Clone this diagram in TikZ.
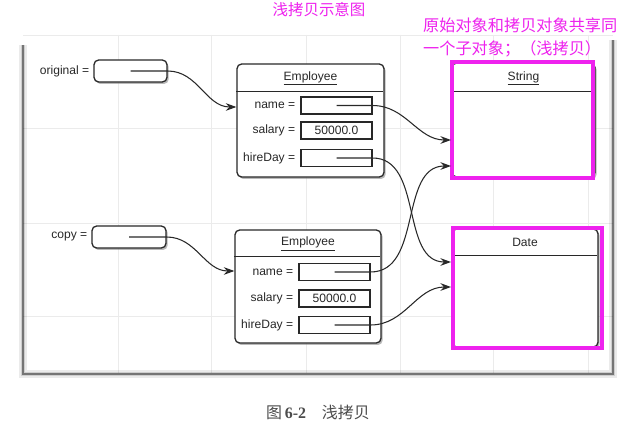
\documentclass[tikz,border=0pt]{standalone}
\usepackage{fontspec}
\setmainfont{Liberation Sans}
\newfontfamily\cjk{Noto Sans CJK SC}
\newfontfamily\capserif{Liberation Serif}
\usetikzlibrary{positioning,shadows,arrows.meta}
\definecolor{hilite}{RGB}{238,34,238}
\definecolor{ink}{RGB}{40,40,40}
\tikzset{
  obj/.style={draw=ink, line width=1.1pt, rounded corners=4pt, fill=white,
    drop shadow={opacity=0.55, shadow xshift=1.4pt, shadow yshift=-1.7pt}},
  field/.style={draw=ink, line width=0.9pt, fill=white, inner sep=0pt,
    minimum width=2.13cm, minimum height=0.51cm},
  ref/.style={ink, line width=0.9pt, -{Stealth[length=9pt,width=6.5pt]}},
  hibox/.style={draw=hilite, line width=2.8pt},
  grid/.style={gray!16, line width=0.4pt}
}
\begin{document}
\begin{tikzpicture}[x=0.03cm, y=-0.03cm,
  every node/.style={font=\fontsize{10.3}{12}\selectfont, text=ink}]
  \fill[white] (0,0) rectangle (627,430);
  \useasboundingbox (0,0) rectangle (627,430);
  \foreach \gx in {118,211,306,400,493,588}
    \draw[grid] (\gx,35) -- (\gx,373);
  \foreach \gy in {35,128,223,316}
    \draw[grid] (23,\gy) -- (613,\gy);
  \foreach \w/\o in {6/0.08,4/0.12,2.5/0.18,1.2/0.3}
    \draw[line width=\w pt, black, opacity=\o] (23,45) -- (23,374) -- (613,374) -- (613,40);

  \node[text=hilite, font=\cjk\fontsize{13.2}{16}\selectfont] (title) at (319,10) {浅拷贝示意图};
  \node[text=hilite, font=\cjk\fontsize{13.8}{19.5}\selectfont, align=left, anchor=north west, inner sep=0pt]
    (note) at (423,18) {原始对象和拷贝对象共享同\\一个子对象；（浅拷贝）};

  \node[obj, minimum width=2.19cm, minimum height=0.66cm] (orig) at (130.5,71) {};
  \node[left=0pt of orig] (origlbl) {original =};
  \node[obj, minimum width=2.22cm, minimum height=0.66cm] (copy) at (129,237) {};
  \node[left=0pt of copy] (copylbl) {copy =};

  \node[obj, minimum width=4.41cm, minimum height=3.39cm] (emp1) at (310.5,120.5) {};
  \draw[ink, line width=0.9pt] (emp1.north west) ++(0,28) -- ++(147,0);
  \path (emp1.north) ++(0,15) node (emp1t) {\underline{Employee}};
  \node[field] (name1) at (336.5,105.5) {};
  \node[field] (sal1) at (336.5,130.5) {50000.0};
  \node[field] (hire1) at (336.5,158) {};
  \node[left=1pt of name1] (name1l) {name =};
  \node[left=1pt of sal1] (sal1l) {salary =};
  \node[left=1pt of hire1] (hire1l) {hireDay =};

  \node[obj, minimum width=4.38cm, minimum height=3.39cm] (emp2) at (308,286.5) {};
  \draw[ink, line width=0.9pt] (emp2.north west) ++(0,27) -- ++(146,0);
  \path (emp2.north) ++(0,14.5) node (emp2t) {\underline{Employee}};
  \node[field] (name2) at (334.5,272) {};
  \node[field] (sal2) at (334.5,298.5) {50000.0};
  \node[field] (hire2) at (334.5,325) {};
  \node[left=1pt of name2] (name2l) {name =};
  \node[left=1pt of sal2] (sal2l) {salary =};
  \node[left=1pt of hire2] (hire2l) {hireDay =};

  \node[obj, minimum width=4.29cm, minimum height=3.42cm] (str) at (523.5,120) {};
  \draw[ink, line width=0.9pt] (str.north west) ++(0,29) -- ++(143,0);
  \path (str.north) ++(0,16) node (strt) {\underline{String}};
  \node[obj, minimum width=4.38cm, minimum height=3.54cm] (date) at (525,288) {};
  \draw[ink, line width=0.9pt] (date.north west) ++(0,27) -- ++(146,0);
  \path (date.north) ++(0,14) node (datet) {Date};

  \draw[hibox] (452,62) rectangle (593,178);
  \draw[hibox] (453,228) rectangle (602,348);

  \coordinate (strA) at (451,140);
  \coordinate (strB) at (451,166);
  \coordinate (dateA) at (451,262);
  \coordinate (dateB) at (451,287);

  \draw[ref] (orig.center) -- (orig.east) to[out=0,in=180] (emp1.west |- 0,107);
  \draw[ref] (copy.center) -- (copy.east) to[out=0,in=180] (emp2.west |- 0,271);
  \draw[ref] (name1.center) -- (name1.east) to[out=0,in=180] (strA);
  \draw[ref] (hire1.center) -- (hire1.east) to[out=0,in=180] (dateA);
  \draw[ref] (name2.center) -- (name2.east) to[out=0,in=180] (strB);
  \draw[ref] (hire2.center) -- (hire2.east) to[out=0,in=180] (dateB);

  \node[text=black!70, font=\fontsize{13.6}{16}\selectfont] (caption) at (318,412)
    {\cjk 图\,{\capserif\bfseries 6-2}\quad\cjk 浅拷贝};
\end{tikzpicture}
\end{document}
